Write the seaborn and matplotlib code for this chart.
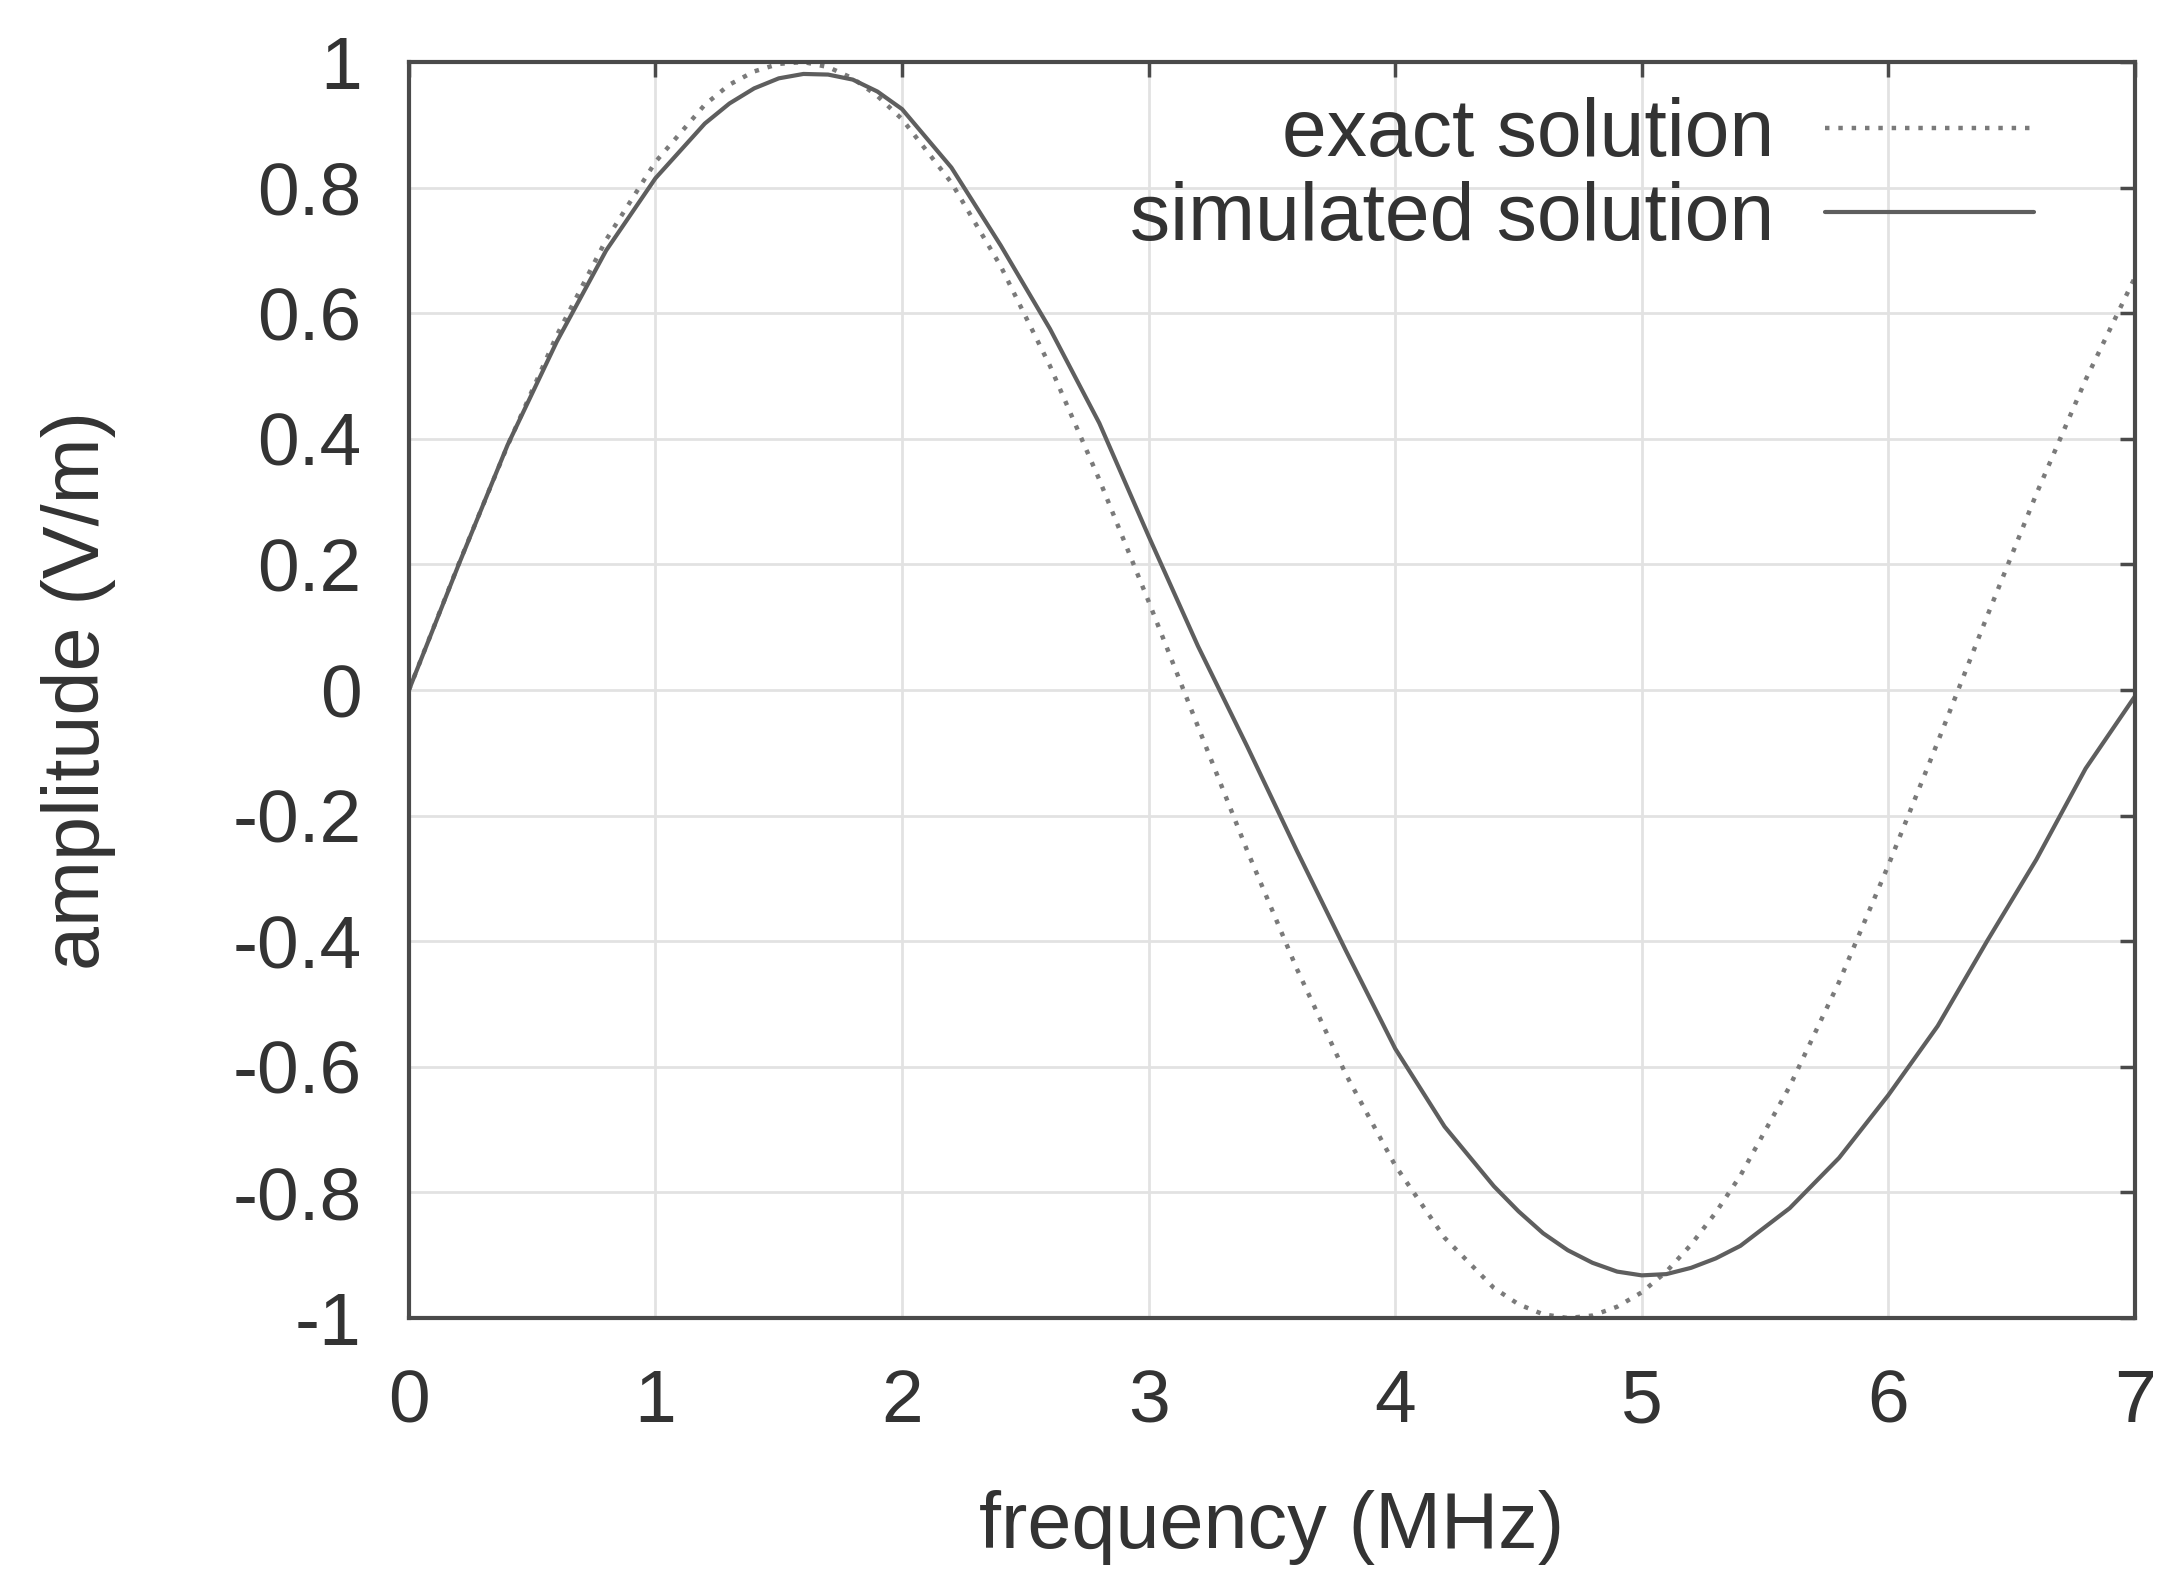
import numpy as np
import pandas as pd
import matplotlib
matplotlib.use("Agg")
import matplotlib.pyplot as plt
import seaborn as sns

# ---- data ----
freq = [0.0, 0.2, 0.4, 0.6, 0.8, 1.0, 1.2, 1.3, 1.4, 1.5, 1.6, 1.7, 1.8, 1.9,
        2.0, 2.2, 2.4, 2.6, 2.8, 3.0, 3.2, 3.4, 3.6, 3.8,
        4.0, 4.2, 4.4, 4.5, 4.6, 4.7, 4.8, 4.9, 5.0, 5.1, 5.2, 5.3, 5.4, 5.6, 5.8,
        6.0, 6.2, 6.4, 6.6, 6.8, 7.0]
exact = [0.000, 0.199, 0.389, 0.565, 0.717, 0.841, 0.932, 0.964, 0.985, 0.997, 1.000, 0.992, 0.974, 0.946,
         0.909, 0.808, 0.675, 0.516, 0.335, 0.141, -0.058, -0.256, -0.443, -0.612,
         -0.757, -0.872, -0.952, -0.978, -0.994, -1.000, -0.996, -0.982, -0.959, -0.926, -0.883, -0.832, -0.773, -0.631, -0.465,
         -0.279, -0.083, 0.117, 0.312, 0.494, 0.657]
simulated = [0.000, 0.198, 0.390, 0.555, 0.700, 0.815, 0.902, 0.934, 0.958, 0.974, 0.981, 0.980, 0.972, 0.953,
             0.925, 0.832, 0.708, 0.575, 0.425, 0.245, 0.070, -0.090, -0.255, -0.415,
             -0.571, -0.695, -0.790, -0.830, -0.865, -0.892, -0.912, -0.926, -0.932, -0.930, -0.920, -0.905, -0.885, -0.825, -0.745,
             -0.645, -0.535, -0.400, -0.270, -0.125, -0.010]
labels = ["exact solution", "simulated solution"]
xticks = [0, 1, 2, 3, 4, 5, 6, 7]
yticks = [-1, -0.8, -0.6, -0.4, -0.2, 0, 0.2, 0.4, 0.6, 0.8, 1]
ytick_labels = ["-1", "-0.8", "-0.6", "-0.4", "-0.2", "0", "0.2", "0.4", "0.6", "0.8", "1"]

df_exact = pd.DataFrame({"freq": freq, "amp": exact})
df_sim = pd.DataFrame({"freq": freq, "amp": simulated})

sns.set_theme(style="white")
plt.rcParams["font.family"] = ["Liberation Sans", "DejaVu Sans"]
plt.rcParams["axes.unicode_minus"] = False

fig = plt.figure(figsize=(21.67, 15.74), dpi=100)
ax = fig.add_axes([0.1887, 0.1626, 0.7965, 0.798])

sns.lineplot(data=df_exact, x="freq", y="amp", ax=ax, color="#7a7a7a",
             linewidth=3.2, linestyle=(0, (1, 2)), label=labels[0])
sns.lineplot(data=df_sim, x="freq", y="amp", ax=ax, color="#5e5e5e",
             linewidth=3.0, label=labels[1])

ax.set_xlim(0, 7)
ax.set_ylim(-1, 1)
ax.set_xticks(xticks)
ax.set_xticklabels([str(t) for t in xticks])
ax.set_yticks(yticks)
ax.set_yticklabels(ytick_labels)

ax.grid(True, color="#e2e2e2", linewidth=2.0)
ax.set_axisbelow(True)
for s in ax.spines.values():
    s.set_visible(True)
    s.set_color("#4a4a4a")
    s.set_linewidth(3.0)

ax.tick_params(axis="both", direction="in", length=11, width=2.5, color="#4a4a4a",
               top=True, right=True, labelsize=54, labelcolor="#333333")
ax.tick_params(axis="x", pad=36)
ax.tick_params(axis="y", pad=34)

ax.set_xlabel("frequency (MHz)", fontsize=57, color="#333333", labelpad=38)
ax.set_ylabel("amplitude (V/m)", fontsize=57, color="#333333", labelpad=84)

leg = ax.legend(loc="upper right", bbox_to_anchor=(0.9415, 0.972), frameon=False,
                markerfirst=False, fontsize=58, handlelength=2.6, handletextpad=0.63,
                labelspacing=0.1, borderaxespad=0, borderpad=0)
for t in leg.get_texts():
    t.set_color("#333333")

fig.savefig("out.png", dpi=100, facecolor="white")
